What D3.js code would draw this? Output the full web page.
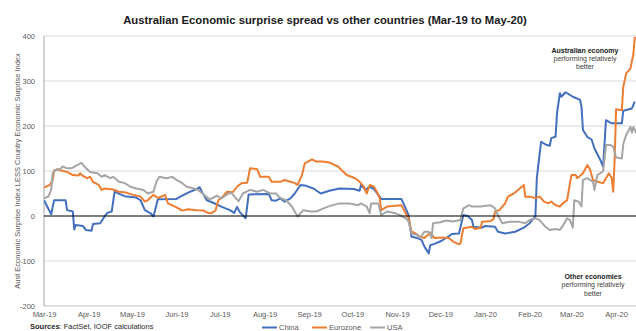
<!DOCTYPE html>
<html>
<head>
<meta charset="utf-8">
<script src="https://cdn.jsdelivr.net/npm/d3@7"></script>
<style>
  html, body { margin: 0; padding: 0; background: #fff; }
  svg { display: block; font-family: "Liberation Sans", Arial, sans-serif; }
</style>
</head>
<body>
<svg id="chart" width="636" height="331"></svg>
<script>
// Surprise-index spread: Australia minus each country
const chinaDates = ["2019-03-01","2019-03-06","2019-03-08","2019-03-16","2019-03-17","2019-03-21","2019-03-22","2019-03-23","2019-03-28","2019-03-30",
  "2019-04-03","2019-04-04","2019-04-09","2019-04-12","2019-04-14","2019-04-17","2019-04-19","2019-04-21","2019-04-26","2019-05-04",
  "2019-05-07","2019-05-10","2019-05-14","2019-05-16","2019-05-19","2019-06-01","2019-06-03","2019-06-09","2019-06-15","2019-06-17",
  "2019-06-19","2019-06-22","2019-06-26","2019-07-02","2019-07-08","2019-07-11","2019-07-13","2019-07-15","2019-07-19","2019-07-21",
  "2019-08-04","2019-08-06","2019-08-09","2019-08-12","2019-08-15","2019-08-19","2019-08-22","2019-08-26","2019-08-30","2019-09-04",
  "2019-09-09","2019-09-13","2019-09-15","2019-09-22","2019-10-02","2019-10-06","2019-10-07","2019-10-10","2019-10-13","2019-10-16",
  "2019-10-21","2019-11-04","2019-11-07","2019-11-09","2019-11-11","2019-11-15","2019-11-18","2019-11-20","2019-11-23","2019-11-24",
  "2019-11-27","2019-12-02","2019-12-07","2019-12-09","2019-12-14","2019-12-17","2019-12-20","2019-12-23","2019-12-24","2019-12-30",
  "2020-01-01","2020-01-08","2020-01-10","2020-01-15","2020-01-22","2020-01-28","2020-02-01","2020-02-05","2020-02-06","2020-02-08",
  "2020-02-09","2020-02-12","2020-02-15","2020-02-16","2020-02-19","2020-02-20","2020-02-22","2020-02-23","2020-02-26","2020-03-02",
  "2020-03-07","2020-03-08","2020-03-09","2020-03-12","2020-03-15","2020-03-17","2020-03-21","2020-03-23","2020-03-25","2020-03-29",
  "2020-04-05","2020-04-06","2020-04-12","2020-04-14"];
const chinaValues = [35,4,35,35,13,10,-30,-20,-22,-31,
  -33,-18,-16,-1,7,10,54,51,44,41,
  35,13,6,-1,37,38,42,52,60,64,
  51,35,30,21,13,7,20,8,-5,48,
  49,35,34,39,32,39,50,69,67,61,
  50,54,56,61,60,56,69,58,65,60,
  38,38,17,2,-46,-49,-53,-68,-83,-65,
  -62,-55,-45,-40,-39,2,0,-9,-24,-26,
  -22,-24,-35,-39,-35,-26,-16,-1,84,139,
  165,159,156,173,176,228,273,265,275,265,
  258,243,191,176,170,150,125,110,213,206,
  206,234,239,254];

const eurozoneDates = ["2019-03-01","2019-03-05","2019-03-07","2019-03-08","2019-03-10","2019-03-13","2019-03-17","2019-03-21","2019-03-25","2019-03-26",
  "2019-03-28","2019-03-31","2019-04-02","2019-04-04","2019-04-08","2019-04-10","2019-04-12","2019-04-18","2019-04-22","2019-04-27",
  "2019-05-02","2019-05-07","2019-05-10","2019-05-12","2019-05-16","2019-05-19","2019-05-24","2019-05-26","2019-05-31","2019-06-05",
  "2019-06-09","2019-06-15","2019-06-20","2019-06-22","2019-06-25","2019-06-28","2019-06-30","2019-07-03","2019-07-06","2019-07-10",
  "2019-07-13","2019-07-16","2019-07-20","2019-07-22","2019-07-27","2019-07-29","2019-08-04","2019-08-06","2019-08-12","2019-08-15",
  "2019-08-19","2019-08-22","2019-08-24","2019-08-27","2019-08-29","2019-09-03","2019-09-06","2019-09-10","2019-09-15","2019-09-21",
  "2019-09-27","2019-10-03","2019-10-06","2019-10-09","2019-10-11","2019-10-13","2019-10-16","2019-10-18","2019-10-20","2019-10-21",
  "2019-10-25","2019-10-29","2019-11-04","2019-11-07","2019-11-09","2019-11-11","2019-11-13","2019-11-17","2019-11-20","2019-11-24",
  "2019-11-27","2019-12-02","2019-12-07","2019-12-10","2019-12-14","2019-12-15","2019-12-17","2019-12-23","2019-12-25","2019-12-29",
  "2019-12-30","2020-01-05","2020-01-07","2020-01-08","2020-01-11","2020-01-15","2020-01-17","2020-01-21","2020-01-24","2020-01-28",
  "2020-01-29","2020-02-01","2020-02-05","2020-02-08","2020-02-11","2020-02-14","2020-02-16","2020-02-19","2020-02-22","2020-02-24",
  "2020-02-27","2020-03-01","2020-03-04","2020-03-05","2020-03-09","2020-03-12","2020-03-14","2020-03-16","2020-03-19","2020-03-23",
  "2020-03-27","2020-03-29","2020-03-30","2020-03-31","2020-04-01","2020-04-05","2020-04-06","2020-04-08","2020-04-11","2020-04-13",
  "2020-04-14"];
const eurozoneValues = [63,69,80,101,104,101,98,91,90,95,
  89,84,87,76,69,58,61,59,54,52,
  47,43,32,35,47,40,47,28,21,12,
  15,13,12,8,6,12,35,43,54,53,
  65,73,74,106,104,87,87,76,76,80,
  76,73,69,91,117,126,121,121,119,110,
  91,84,76,65,50,69,65,54,39,13,
  21,22,24,6,-5,-35,-37,-46,-49,-37,
  -49,-48,-49,-57,-63,-61,-27,-24,-29,-26,
  -13,-11,-7,10,13,28,43,50,58,69,
  43,43,40,43,32,28,32,24,21,28,
  35,91,91,84,95,113,103,80,76,73,
  95,84,54,124,237,235,287,317,328,360,
  398];

const usaDates = ["2019-03-01","2019-03-04","2019-03-06","2019-03-07","2019-03-09","2019-03-12","2019-03-14","2019-03-17","2019-03-20","2019-03-24",
  "2019-03-27","2019-03-29","2019-04-02","2019-04-07","2019-04-10","2019-04-12","2019-04-16","2019-04-18","2019-04-22","2019-04-26",
  "2019-04-30","2019-05-04","2019-05-09","2019-05-12","2019-05-16","2019-05-18","2019-05-20","2019-05-25","2019-05-29","2019-06-01",
  "2019-06-05","2019-06-08","2019-06-13","2019-06-16","2019-06-20","2019-06-24","2019-06-29","2019-07-02","2019-07-06","2019-07-09",
  "2019-07-12","2019-07-14","2019-07-17","2019-07-22","2019-07-27","2019-07-31","2019-08-05","2019-08-09","2019-08-12","2019-08-16",
  "2019-08-20","2019-08-24","2019-08-28","2019-09-02","2019-09-06","2019-09-11","2019-09-15","2019-09-22","2019-09-29","2019-10-05",
  "2019-10-07","2019-10-11","2019-10-13","2019-10-14","2019-10-19","2019-10-21","2019-10-25","2019-10-31","2019-11-03","2019-11-07",
  "2019-11-09","2019-11-11","2019-11-15","2019-11-17","2019-11-20","2019-11-23","2019-11-25","2019-11-26","2019-12-01","2019-12-05",
  "2019-12-10","2019-12-15","2019-12-17","2019-12-21","2019-12-23","2019-12-29","2020-01-05","2020-01-08","2020-01-10","2020-01-13",
  "2020-01-18","2020-01-25","2020-01-29","2020-02-01","2020-02-05","2020-02-08","2020-02-12","2020-02-15","2020-02-19","2020-02-22",
  "2020-02-24","2020-02-27","2020-02-29","2020-03-02","2020-03-03","2020-03-06","2020-03-08","2020-03-09","2020-03-12","2020-03-16",
  "2020-03-17","2020-03-19","2020-03-21","2020-03-23","2020-03-25","2020-03-28","2020-03-30","2020-04-01","2020-04-05","2020-04-06",
  "2020-04-08","2020-04-11","2020-04-12","2020-04-13","2020-04-15"];
const usaValues = [39,43,58,95,102,104,110,106,106,113,
  118,110,98,95,87,91,84,87,76,73,
  65,61,58,50,54,76,87,84,87,80,
  73,65,61,58,47,37,45,39,48,52,
  40,33,50,58,54,58,50,50,40,35,
  21,-1,13,10,10,17,22,28,28,24,
  28,21,6,28,28,2,10,6,2,-5,
  -12,-39,-42,-49,-35,-35,-49,-16,-14,-10,
  -12,-9,17,24,21,21,24,17,2,-16,
  -13,-13,-16,-9,-5,-9,-24,-31,-29,-31,
  -22,-5,-9,-26,35,32,21,80,84,76,
  58,91,95,99,158,158,154,130,128,160,
  180,198,185,198,184];

const seriesNames = ["China", "Eurozone", "USA"];
const seriesColors = ["#4270BF", "#ED7D31", "#A5A5A5"];
const yTickValues = [-200, -100, 0, 100, 200, 300, 400];
const yTickLabels = ["-200", "-100", "0", "100", "200", "300", "400"];
const xTickLabels = ["Mar-19","Apr-19","May-19","Jun-19","Jul-19","Aug-19","Sep-19","Oct-19",
  "Nov-19","Dec-19","Jan-20","Feb-20","Mar-20","Apr-20"];

const parse = d3.timeParse("%Y-%m-%d");
const series = [
  { name: seriesNames[0], color: seriesColors[0], dates: chinaDates, values: chinaValues },
  { name: seriesNames[1], color: seriesColors[1], dates: eurozoneDates, values: eurozoneValues },
  { name: seriesNames[2], color: seriesColors[2], dates: usaDates, values: usaValues }
].map(s => ({ ...s, points: s.dates.map((d, i) => ({ date: parse(d), value: s.values[i] })) }));

const svg = d3.select("#chart");
const plot = { left: 44, top: 36, bottom: 306 };
const start = parse("2019-03-01"), end = parse("2020-05-01");
const pxPerDay = 1.441;
const x = d3.scaleTime().domain([start, end])
  .range([plot.left, plot.left + d3.timeDay.count(start, end) * pxPerDay]);
const y = d3.scaleLinear().domain([-200, 400]).range([plot.bottom, plot.top]);
const xRight = x.range()[1];

// title
svg.append("text")
  .attr("x", 325).attr("y", 24)
  .attr("text-anchor", "middle")
  .attr("font-size", 11.3).attr("font-weight", "bold").attr("fill", "#1a1a1a")
  .text("Australian Economic surprise spread vs other countries (Mar-19 to May-20)");

// horizontal gridlines
svg.append("g").selectAll("line")
  .data(yTickValues.filter(v => v !== 0 && v !== -200))
  .join("line")
  .attr("x1", plot.left).attr("x2", xRight)
  .attr("y1", d => y(d)).attr("y2", d => y(d))
  .attr("stroke", "#d9d9d9").attr("stroke-width", 1);

// bottom and left axis lines
svg.append("line")
  .attr("x1", plot.left).attr("x2", xRight)
  .attr("y1", y(-200)).attr("y2", y(-200))
  .attr("stroke", "#bfbfbf").attr("stroke-width", 1);
svg.append("line")
  .attr("x1", plot.left).attr("x2", plot.left)
  .attr("y1", y(400)).attr("y2", y(-200))
  .attr("stroke", "#a6a6a6").attr("stroke-width", 1);

// y axis labels
const yAxis = d3.axisLeft(y).tickValues(yTickValues).tickSize(0).tickPadding(9)
  .tickFormat((d, i) => yTickLabels[i]);
const gy = svg.append("g").attr("transform", `translate(${plot.left},0)`).call(yAxis);
gy.select(".domain").remove();
gy.selectAll("text").attr("font-size", 7.5).attr("fill", "#595959")
  .attr("font-family", "'Liberation Sans', Arial, sans-serif");

// x axis labels
const monthTicks = d3.timeMonth.range(start, parse("2020-04-02"));
const xAxis = d3.axisBottom(x).tickValues(monthTicks).tickSize(0).tickPadding(6)
  .tickFormat((d, i) => xTickLabels[i]);
const gx = svg.append("g").attr("transform", `translate(0,${plot.bottom})`).call(xAxis);
gx.select(".domain").remove();
gx.selectAll("text").attr("font-size", 7.5).attr("fill", "#595959")
  .attr("font-family", "'Liberation Sans', Arial, sans-serif");

// y axis title
svg.append("text")
  .attr("transform", `translate(20,${(plot.top + plot.bottom) / 2}) rotate(-90)`)
  .attr("text-anchor", "middle")
  .attr("font-size", 7.5).attr("fill", "#595959")
  .text("Aust Economic Surprise Index LESS Country Economic Surprise Index");

// series lines
svg.append("clipPath").attr("id", "plotClip")
  .append("rect").attr("x", plot.left).attr("y", plot.top - 4)
  .attr("width", xRight - plot.left).attr("height", plot.bottom - plot.top + 8);

const line = d3.line().x(d => x(d.date)).y(d => y(d.value));
svg.append("g").attr("clip-path", "url(#plotClip)")
  .selectAll("path").data(series).join("path")
  .attr("d", d => line(d.points))
  .attr("fill", "none")
  .attr("stroke", d => d.color)
  .attr("stroke-width", 2)
  .attr("stroke-linejoin", "round");

// zero line
svg.append("line")
  .attr("x1", plot.left).attr("x2", xRight)
  .attr("y1", y(0)).attr("y2", y(0))
  .attr("stroke", "#000").attr("stroke-width", 1.2);

// annotations
function note(cx, baseline, lines) {
  const t = svg.append("text").attr("text-anchor", "middle").attr("font-size", 7).attr("fill", "#262626");
  lines.forEach((l, i) => {
    t.append("tspan").attr("x", cx).attr("y", baseline + i * 8.4)
      .attr("font-weight", i === 0 ? "bold" : "normal")
      .attr("fill", i === 0 ? "#1a1a1a" : "#404040")
      .text(l);
  });
}
note(585, 52.5, ["Australian  economy", "performing relatively", "better"]);
note(593, 279, ["Other economies", "performing relatively", "better"]);

// sources
const src = svg.append("text").attr("x", 30).attr("y", 328.5).attr("font-size", 7.5).attr("fill", "#262626");
src.append("tspan").attr("font-weight", "bold").text("Sources");
src.append("tspan").text(": FactSet, IOOF calculations");

// legend
const legendX = [262, 312, 370];
const lg = svg.append("g");
series.forEach((s, i) => {
  lg.append("line")
    .attr("x1", legendX[i]).attr("x2", legendX[i] + 15)
    .attr("y1", 327.5).attr("y2", 327.5)
    .attr("stroke", s.color).attr("stroke-width", 2);
  lg.append("text")
    .attr("x", legendX[i] + 17).attr("y", 330)
    .attr("font-size", 7.5).attr("fill", "#595959")
    .text(s.name);
});
</script>
</body>
</html>
